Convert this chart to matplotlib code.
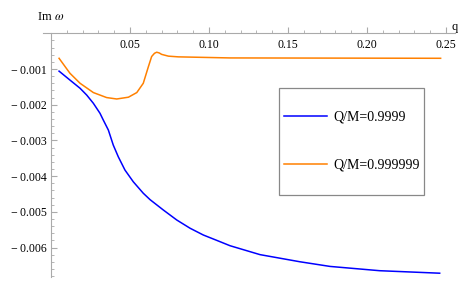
import matplotlib.pyplot as plt
import numpy as np
from matplotlib.patches import Rectangle
from matplotlib.ticker import FixedLocator, FuncFormatter

plt.rcParams['font.family'] = 'Liberation Serif'
plt.rcParams['mathtext.fontset'] = 'stix'

# Data
q_blue = [0.0051, 0.012, 0.0184, 0.0226, 0.0268, 0.031, 0.0331, 0.0363, 0.0394, 0.0426,
          0.0468, 0.0521, 0.0584, 0.0627, 0.0711, 0.0796, 0.088, 0.0964, 0.1049, 0.1133,
          0.1323, 0.1576, 0.1766, 0.208, 0.246]
im_blue = [-0.00106, -0.00131, -0.00154, -0.00173, -0.00196, -0.00224, -0.00243, -0.00271,
           -0.00313, -0.00346, -0.00383, -0.00416, -0.00448, -0.00466, -0.00495, -0.00523,
           -0.00546, -0.00565, -0.00580, -0.00595, -0.0062, -0.0064, -0.00653, -0.00665,
           -0.00672]

q_orange = [0.0051, 0.012, 0.0184, 0.0268, 0.0352, 0.0416, 0.049, 0.0543, 0.0584, 0.0616,
            0.0637, 0.0655, 0.0669, 0.0685, 0.070, 0.0743, 0.0806, 0.1133, 0.2466]
im_orange = [-0.0007, -0.00112, -0.0014, -0.00166, -0.0018, -0.00184, -0.00179, -0.00166,
             -0.0014, -0.00094, -0.00065, -0.00056, -0.00053, -0.00055, -0.00059, -0.00064,
             -0.00066, -0.00069, -0.0007]

labels = ["Q/M=0.9999", "Q/M=0.999999"]

fig = plt.figure(figsize=(4.6, 2.87), dpi=100)
ax = fig.add_axes([0, 0, 1, 1])

# pixel mapping: x = 51 + 1580*q, y = 33.3 - 35700*v
ax.set_xlim(-51 / 1580, (460 - 51) / 1580)
ax.set_ylim(-(287 - 33.3) / 35700, 33.3 / 35700)

ax.plot(q_blue, im_blue, color=(0, 0, 1), lw=1.1, label=labels[0], solid_joinstyle='round')
ax.plot(q_orange, im_orange, color=(1, 0.5, 0), lw=1.1, label=labels[1], solid_joinstyle='round')

for s in ['top', 'right']:
    ax.spines[s].set_visible(False)
ax.spines['left'].set_position(('data', 0))
ax.spines['bottom'].set_position(('data', 0))
ax.spines['left'].set_bounds(-0.00683, 0)
ax.spines['bottom'].set_bounds(-0.005, 0.256)
for s in ['left', 'bottom']:
    ax.spines[s].set_color('#aaaaaa')
    ax.spines[s].set_linewidth(0.8)

ax.xaxis.set_major_locator(FixedLocator([0.05, 0.10, 0.15, 0.20, 0.25]))
ax.xaxis.set_minor_locator(FixedLocator(np.arange(1, 26) * 0.01))
ax.yaxis.set_major_locator(FixedLocator([-0.001, -0.002, -0.003, -0.004, -0.005, -0.006]))
ax.yaxis.set_minor_locator(FixedLocator(-np.arange(1, 35) * 0.0002))

ax.xaxis.set_major_formatter(FuncFormatter(lambda v, p: f"{v:.2f}"))
ax.yaxis.set_major_formatter(FuncFormatter(lambda v, p: "\u2212\u2009" + f"{-v:.3f}"))

ax.tick_params(axis='both', which='both', direction='in', colors='#aaaaaa',
               labelcolor='black', labelsize=8.5)
ax.tick_params(axis='both', which='major', length=4, width=0.8)
ax.tick_params(axis='both', which='minor', length=2, width=0.6)
ax.tick_params(axis='x', pad=4)
ax.tick_params(axis='y', pad=3)

ax.text(37, 287 - 17, r"Im $\omega$", transform=None, fontsize=9, va='center', ha='left')
ax.text(452, 287 - 33, "q", transform=None, fontsize=9, va='bottom', ha='left')

# legend frame
fig.patches.append(Rectangle((279 / 460, 1 - 195 / 287), 145 / 460, 107 / 287,
                             transform=fig.transFigure, fill=False, edgecolor='#888888',
                             lw=0.9))
ax.legend(loc='center', bbox_to_anchor=(352 / 460, 1 - 141 / 287), frameon=False,
          fontsize=10, handlelength=3.1, handletextpad=0.45, labelspacing=2.5)

fig.savefig("out.png", dpi=100)
